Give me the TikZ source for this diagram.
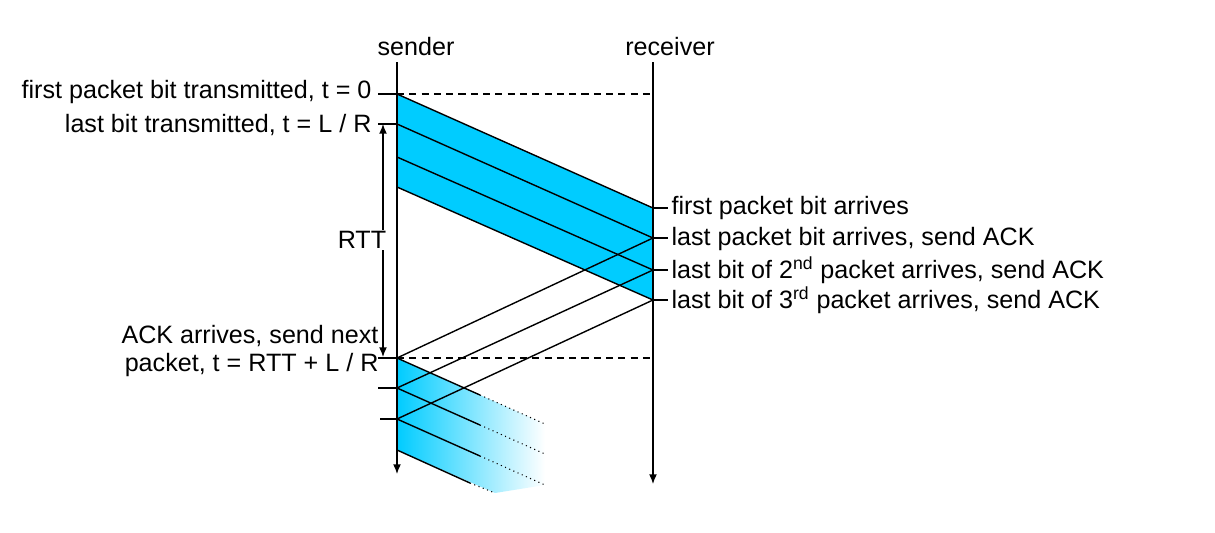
\documentclass[tikz,border=0pt]{standalone}
\usepackage{fontspec}
\setmainfont{Liberation Sans}
\usetikzlibrary{arrows.meta}
\definecolor{pkt}{RGB}{0,204,255}

\begin{document}
\begin{tikzpicture}[x=0.02cm,y=-0.02cm,>={Latex[length=5.5pt,width=4.5pt]},line width=0.8pt,
  font=\fontsize{14.3}{15.6}\selectfont]
  \useasboundingbox (0,0) rectangle (1215,532);

  % time lines
  \node (snd) at (416,47) {sender};
  \node (rcv) at (670,47) {receiver};
  \coordinate (stop) at (397,62);
  \coordinate (sbot) at (397,474);
  \coordinate (rtop) at (653,62);
  \coordinate (rbot) at (653,484);

  % first three packets
  \coordinate (s0) at (397,94);
  \coordinate (s1) at (397,124);
  \coordinate (s2) at (397,157);
  \coordinate (s3) at (397,187);
  \coordinate (r0) at (653,208);
  \coordinate (r1) at (653,238);
  \coordinate (r2) at (653,270);
  \coordinate (r3) at (653,300);

  \fill [pkt] (s0) -- (r0) -- (r3) -- (s3) -- cycle;
  \draw (s0) -- (r0);
  \draw (s1) -- (r1);
  \draw (s2) -- (r2);
  \draw (s3) -- (r3);

  % next packets
  \coordinate (a1) at (397,358);
  \coordinate (a2) at (397,388);
  \coordinate (a3) at (397,419);
  \coordinate (a4) at (397,450);
  \coordinate (m1) at (480,395);
  \coordinate (m2) at (480,425);
  \coordinate (m3) at (480,456);
  \coordinate (m4) at (470,483);
  \coordinate (e1) at (545,424);
  \coordinate (e2) at (545,454);
  \coordinate (e3) at (545,485);
  \coordinate (e4) at (495,493);

  \shade [left color=pkt, right color=white] (a1) -- (e1) -- (e2) -- (a2) -- cycle;
  \shade [left color=pkt, right color=white] (a2) -- (e2) -- (e3) -- (a3) -- cycle;
  \shade [left color=pkt, right color=white] (a3) -- (e3) -- (e4) -- (a4) -- cycle;
  \draw (a1) -- (m1);
  \draw (a2) -- (m2);
  \draw (a3) -- (m3);
  \draw (a4) -- (m4);
  \draw [dotted, line width=0.6pt] (m1) -- (e1);
  \draw [dotted, line width=0.6pt] (m2) -- (e2);
  \draw [dotted, line width=0.6pt] (m3) -- (e3);
  \draw [dotted, line width=0.6pt] (m4) -- (e4);

  % acks
  \draw (r1) -- (a1);
  \draw (r2) -- (a2);
  \draw (r3) -- (a3);

  \draw [->] (stop) -- (sbot);
  \draw [->] (rtop) -- (rbot);

  \draw [dash pattern=on 4pt off 3pt] (s0) -- (650,94);
  \draw [dash pattern=on 4pt off 3pt] (a1) -- (650,358);

  % left labels
  \draw (s0) -- ++(-19,0);
  \draw (s1) -- ++(-19,0);
  \draw (a1) -- ++(-19,0);
  \draw (a2) -- ++(-19,0);
  \draw (a3) -- ++(-17,0);
  \node [anchor=east] (l0) at (378,92) {first packet bit transmitted, t = 0};
  \node [anchor=east] (l1) at (378,125) {last bit transmitted, t = L / R};
  \node [anchor=east, align=right] (l2) at (385,351) {ACK arrives, send next\\packet, t = RTT + L / R};

  \draw [<->] (383,124) -- (383,357);
  \node [fill=white, inner sep=1pt] (rtt) at (362,240) {RTT};

  % right labels
  \draw (r0) -- ++(15,0);
  \draw (r1) -- ++(15,0);
  \draw (r2) -- ++(15,0);
  \draw (r3) -- ++(15,0);
  \node [anchor=west] (k0) at (665,208) {first packet bit arrives};
  \node [anchor=west] (k1) at (665,239) {last packet bit arrives, send ACK};
  \node [anchor=west] (k2) at (665,270) {last bit of 2\textsuperscript{nd} packet arrives, send ACK};
  \node [anchor=west] (k3) at (665,300) {last bit of 3\textsuperscript{rd} packet arrives, send ACK};
\end{tikzpicture}
\end{document}
